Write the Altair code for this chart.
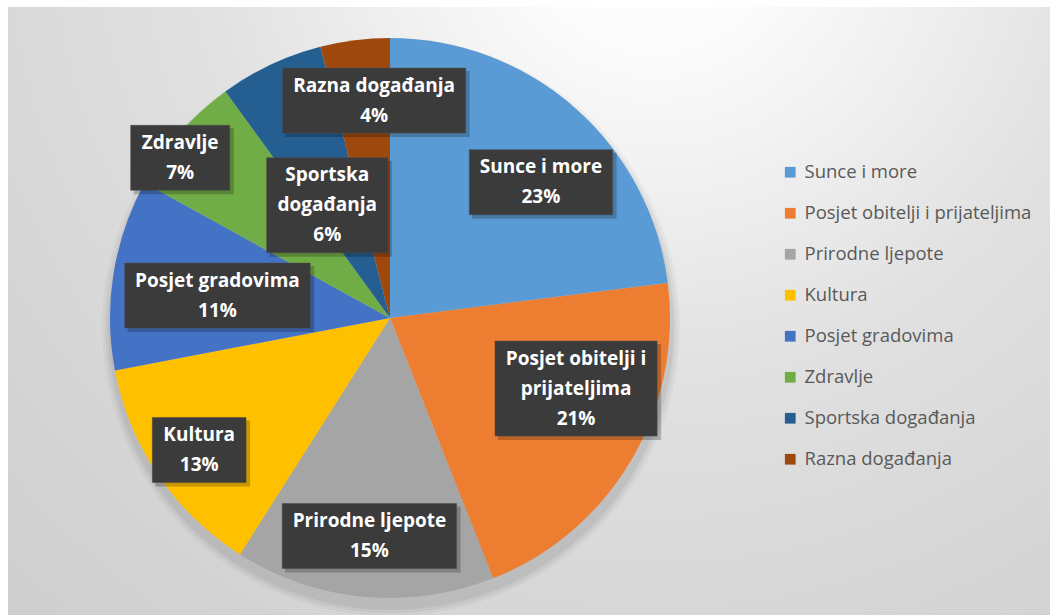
import math
import altair as alt
import pandas as pd

# ---- data ----
categories = ["Sunce i more", "Posjet obitelji i prijateljima", "Prirodne ljepote", "Kultura",
              "Posjet gradovima", "Zdravlje", "Sportska događanja", "Razna događanja"]
values = [23, 21, 15, 13, 11, 7, 6, 4]
label_lines = [["Sunce i more"], ["Posjet obitelji i", "prijateljima"], ["Prirodne ljepote"], ["Kultura"],
               ["Posjet gradovima"], ["Zdravlje"], ["Sportska", "događanja"], ["Razna događanja"]]
colors = ["#5B9BD5", "#ED7D31", "#A5A5A5", "#FFC000", "#4472C4", "#70AD47", "#255E91", "#9E480E"]

# ---- layout ----
W, H = 1050, 615
CX, CY, R = 390, 318, 280
label_radius = [203, 199, 219, 232, 174, 264, 129, 218]   # distance of label box centre from pie centre
label_frac = [0.58, 0.37, 0.50, 0.49, 0.46, 0.34, 0.32, 0.71]  # where in its slice the label sits
LINE_H = 30
FONT = "Open Sans"
FONT_SIZE = 19

# approximate Open Sans Bold advance widths (em) for sizing label boxes
_w = {" ": .26, "%": .87, "i": .29, "j": .29, "l": .29, "r": .43, "t": .43, "c": .5, "s": .5, "z": .5,
      "g": .55, "v": .55, "e": .59, "a": .6, "k": .6, "o": .61, "b": .62, "d": .62, "p": .62, "đ": .62,
      "n": .63, "u": .63, "m": .94, "S": .55, "Z": .58, "P": .63, "K": .66, "R": .66}


def text_w(s):
    return sum(_w.get(ch, .57) for ch in s) * FONT_SIZE


rows = []
for i, (c, v, ll) in enumerate(zip(categories, values, label_lines)):
    lines = ll + [f"{v}%"]
    rows.append({
        "idx": i, "cat": c, "value": v, "lines": lines, "nl": len(lines),
        "bw": max(text_w(s) for s in lines) + 24,
        "bh": len(lines) * LINE_H + 5,
        "lr": label_radius[i], "lf": label_frac[i],
    })
df = pd.DataFrame(rows)

bg_df = pd.DataFrame({"one": [1]})

background = alt.Chart(bg_df).mark_rect(
    fill={
        "gradient": "radial",
        "x1": 0.62, "y1": 0.12, "r1": 0.0,
        "x2": 0.62, "y2": 0.12, "r2": 1.1,
        "stops": [
            {"offset": 0.0, "color": "#ffffff"},
            {"offset": 0.12, "color": "#fbfbfb"},
            {"offset": 0.4, "color": "#e1e1e1"},
            {"offset": 0.65, "color": "#d5d5d5"},
            {"offset": 1.0, "color": "#c8c8c8"},
        ],
    }
).encode(x=alt.value(8), x2=alt.value(W), y=alt.value(7), y2=alt.value(H))

shadows = []
for r_, op in [(289, 0.03), (286, 0.04), (283, 0.055)]:
    shadows.append(
        alt.Chart(bg_df).mark_arc(outerRadius=r_, fill="black", opacity=op).encode(
            x=alt.value(CX + 1), y=alt.value(CY + 9),
            theta=alt.value(0), theta2=alt.value(2 * math.pi)
        )
    )

pie = alt.Chart(df).mark_arc(outerRadius=R).encode(
    x=alt.value(CX), y=alt.value(CY),
    theta=alt.Theta("value:Q", stack=True),
    order=alt.Order("idx:Q"),
    color=alt.Color(
        "cat:N",
        scale=alt.Scale(domain=categories, range=colors),
        legend=alt.Legend(
            title=None, orient="none", legendX=781, legendY=163,
            symbolType="square", symbolSize=115, symbolStrokeWidth=0,
            labelFont=FONT, labelFontSize=18.5, labelColor="#595959",
            labelOffset=5, rowPadding=22, padding=0, labelLimit=400,
        ),
    ),
)

lbl = (
    alt.Chart(df)
    .transform_joinaggregate(total="sum(value)")
    .transform_window(cum="sum(value)", sort=[alt.SortField("idx")], frame=[None, 0])
    .transform_calculate(mid="2*PI*(datum.cum - datum.value*(1-datum.lf))/datum.total")
    .transform_calculate(
        lx=f"{CX} + datum.lr*sin(datum.mid)",
        ly=f"{CY} - datum.lr*cos(datum.mid)",
    )
    .transform_calculate(
        ty=f"datum.ly - (datum.nl-1)*{LINE_H}/2",
        x1="datum.lx - datum.bw/2", x2="datum.lx + datum.bw/2",
        y1="datum.ly - datum.bh/2", y2="datum.ly + datum.bh/2",
        sx1="datum.lx - datum.bw/2 + 3", sx2="datum.lx + datum.bw/2 + 4",
        sy1="datum.ly - datum.bh/2 + 3", sy2="datum.ly + datum.bh/2 + 4",
    )
)

box_shadow = lbl.mark_rect(fill="black", opacity=0.22).encode(
    x=alt.X("sx1:Q", scale=None, axis=None), x2="sx2:Q",
    y=alt.Y("sy1:Q", scale=None, axis=None), y2="sy2:Q",
)
box = lbl.mark_rect(fill="#3b3b3b", stroke="#4a4a4a", strokeWidth=0.5).encode(
    x=alt.X("x1:Q", scale=None, axis=None), x2="x2:Q",
    y=alt.Y("y1:Q", scale=None, axis=None), y2="y2:Q",
)
text = lbl.mark_text(
    font=FONT, fontWeight="bold", fontSize=FONT_SIZE, color="white",
    lineHeight=LINE_H, align="center", baseline="middle",
).encode(
    x=alt.X("lx:Q", scale=None, axis=None),
    y=alt.Y("ty:Q", scale=None, axis=None),
    text=alt.Text("lines:N"),
)

chart = alt.layer(background, *shadows, pie, box_shadow, box, text).properties(
    width=W, height=H, padding=0, autosize=alt.AutoSizeParams(type="none"),
    background="white",
).configure_view(stroke=None)

chart.save("out.html", embed_options={"renderer": "svg", "actions": False})
